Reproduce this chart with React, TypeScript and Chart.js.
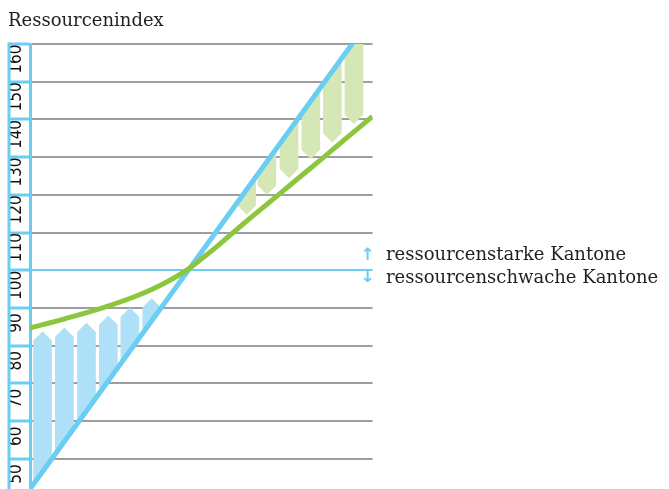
import React, { useEffect, useRef } from 'react';
import { Chart, registerables } from 'chart.js';

Chart.register(...registerables);

// ---------- data ----------
const TITLE = 'Ressourcenindex';
const LEGEND_UP = 'ressourcenstarke Kantone';
const LEGEND_DOWN = 'ressourcenschwache Kantone';

const yTickValues = [50, 60, 70, 80, 90, 100, 110, 120, 130, 140, 150, 160];
const yTickLabels = ['50', '60', '70', '80', '90', '100', '110', '120', '130', '140', '150', '160'];

const Y_MIN = 42;
const Y_MAX = 160;
const X_MIN = 42;
const X_MAX = 167.5;

// index before equalisation (diagonal)
const beforeX = [42, 167.5];
const beforeY = [42, 167.5];

// index after equalisation (curve)
const afterX = [42, 55, 68, 80, 90, 100, 105, 110, 120, 130, 140, 150, 160, 167.5];
const afterY = [84.7, 87.2, 89.9, 92.9, 96.1, 100.3, 103.1, 106.0, 112.2, 118.2, 124.2, 130.2, 136.3, 140.8];

// resource-weak cantons (arrows up)
const weakX = [46.6, 54.6, 62.7, 70.7, 78.6, 86.6];
const weakTip = [83.8, 84.8, 86.1, 88.0, 90.1, 92.6];

// resource-strong cantons (arrows down)
const strongX = [121.4, 128.8, 136.9, 144.9, 152.8, 160.7];
const strongTip = [114.7, 120.0, 124.4, 129.5, 133.9, 138.8];

// ---------- styles ----------
const BLUE = '#6acdf4';
const BLUE_BAR = '#aee0f8';
const GREEN = '#8cc63f';
const GREEN_BAR = '#d4e7b5';
const GRID = '#9d9ea1';
const TEXT = '#231f20';
const LABEL_OFFSET = 4;
const HEAD = 10;
const BLUE_LINE_INDEX = 1;

const arrowClip = {
  id: 'arrowClip',
  beforeDatasetDraw(chart: any, args: any) {
    const ds = chart.data.datasets[args.index];
    if (!ds.arrow) return;
    const ctx = chart.ctx;
    const lm = chart.getDatasetMeta(BLUE_LINE_INDEX);
    const p0 = lm.data[0];
    const p1 = lm.data[lm.data.length - 1];
    const slope = (p1.y - p0.y) / (p1.x - p0.x);
    const yAt = (x: number) => p0.y + slope * (x - p0.x);
    const { left, right, top, bottom } = chart.chartArea;
    const xl = left - 100;
    const xr = right + 100;
    ctx.save();
    ctx.beginPath();
    ctx.moveTo(xl, yAt(xl));
    ctx.lineTo(xr, yAt(xr));
    if (ds.arrow === 'up') {
      ctx.lineTo(xr, top - 2000);
      ctx.lineTo(xl, top - 2000);
    } else {
      ctx.lineTo(xr, bottom + 2000);
      ctx.lineTo(xl, bottom + 2000);
    }
    ctx.closePath();
    ctx.clip();
    ctx.beginPath();
    args.meta.data.forEach((el: any) => {
      const { x, y, base, width } = el.getProps(['x', 'y', 'base', 'width'], true);
      const half = width / 2 + 1;
      const t = Math.min(y, base);
      const b = Math.max(y, base);
      if (ds.arrow === 'up') {
        ctx.moveTo(x - half, b);
        ctx.lineTo(x - half, t + HEAD);
        ctx.lineTo(x, t);
        ctx.lineTo(x + half, t + HEAD);
        ctx.lineTo(x + half, b);
      } else {
        ctx.moveTo(x - half, t);
        ctx.lineTo(x - half, b - HEAD);
        ctx.lineTo(x, b);
        ctx.lineTo(x + half, b - HEAD);
        ctx.lineTo(x + half, t);
      }
      ctx.closePath();
    });
    ctx.clip();
  },
  afterDatasetDraw(chart: any, args: any) {
    const ds = chart.data.datasets[args.index];
    if (!ds.arrow) return;
    chart.ctx.restore();
  },
};

const decorations = {
  id: 'decorations',
  afterDraw(chart: any) {
    const ctx = chart.ctx;
    const ys = chart.scales.y;
    const yp = ys.getPixelForValue(100);
    const xr = chart.chartArea.right;
    ctx.save();
    // left border of the label column
    ctx.strokeStyle = BLUE;
    ctx.lineWidth = 3;
    ctx.beginPath();
    ctx.moveTo(ys.left + 1, ys.top - 1.5);
    ctx.lineTo(ys.left + 1, ys.bottom);
    ctx.stroke();
    // arrows
    ctx.fillStyle = BLUE;
    ctx.font = 'bold 17px "DejaVu Sans"';
    ctx.textAlign = 'center';
    ctx.textBaseline = 'middle';
    ctx.fillText('↑', xr - 5, yp - 14.5);
    ctx.fillText('↓', xr - 5, yp + 7);
    // legend texts
    ctx.fillStyle = TEXT;
    ctx.font = '18px "DejaVu Serif"';
    ctx.textAlign = 'left';
    ctx.textBaseline = 'alphabetic';
    ctx.fillText(LEGEND_UP, xr + 13.5, yp - 10.5);
    ctx.fillText(LEGEND_DOWN, xr + 13.5, yp + 12.5);
    ctx.restore();
  },
};

export default function App() {
  const ref = useRef<HTMLCanvasElement | null>(null);

  useEffect(() => {
    if (!ref.current) return;
    const chart = new Chart(ref.current, {
      type: 'bar',
      data: {
        datasets: [
          {
            type: 'line',
            label: 'nach Ausgleich',
            data: afterX.map((x, i) => ({ x, y: afterY[i] })),
            borderColor: GREEN,
            borderWidth: 5,
            pointRadius: 0,
            fill: false,
            cubicInterpolationMode: 'monotone',
            clip: 0,
          } as any,
          {
            type: 'line',
            label: 'vor Ausgleich',
            data: beforeX.map((x, i) => ({ x, y: beforeY[i] })),
            borderColor: BLUE,
            borderWidth: 5,
            pointRadius: 0,
            fill: false,
            clip: 0,
          } as any,
          {
            type: 'bar',
            label: 'ressourcenschwache Kantone',
            data: weakX.map((x, i) => ({ x, y: [Y_MIN, weakTip[i]] })),
            backgroundColor: BLUE_BAR,
            borderWidth: 0,
            barThickness: 18,
            grouped: false,
            clip: 0,
            arrow: 'up',
          } as any,
          {
            type: 'bar',
            label: 'ressourcenstarke Kantone',
            data: strongX.map((x, i) => ({ x, y: [Y_MAX + 5, strongTip[i]] })),
            backgroundColor: GREEN_BAR,
            borderWidth: 0,
            barThickness: 18,
            grouped: false,
            clip: 0,
            arrow: 'down',
          } as any,
        ],
      },
      options: {
        animation: false,
        responsive: true,
        maintainAspectRatio: false,
        devicePixelRatio: 1,
        layout: { padding: { left: 8, right: 296.5, top: 0, bottom: 0 } },
        plugins: {
          legend: { display: false },
          tooltip: { enabled: false },
          title: {
            display: true,
            text: TITLE,
            align: 'start',
            color: TEXT,
            font: { family: '"DejaVu Serif"', size: 18, weight: 'normal' },
            padding: { top: 11, bottom: 11.4 },
          },
        },
        scales: {
          x: {
            type: 'linear',
            min: X_MIN,
            max: X_MAX,
            offset: false,
            display: false,
            grid: { display: false },
          },
          y: {
            type: 'linear',
            position: 'left',
            min: Y_MIN,
            max: Y_MAX,
            afterBuildTicks: (scale: any) => {
              const t: any[] = [];
              yTickValues.forEach((v) => {
                t.push({ value: v - LABEL_OFFSET });
                t.push({ value: v });
              });
              scale.ticks = t;
            },
            afterFit: (scale: any) => {
              scale.width = 22;
              scale.paddingTop = 0;
              scale.paddingBottom = 0;
              scale.paddingLeft = 0;
              scale.paddingRight = 0;
            },
            grid: {
              color: (c: any) =>
                c.tick && c.tick.value % 10 === 0
                  ? c.tick.value === 100
                    ? BLUE
                    : GRID
                  : 'rgba(0,0,0,0)',
              lineWidth: 2,
              tickColor: (c: any) =>
                c.tick && c.tick.value % 10 === 0 ? BLUE : 'rgba(0,0,0,0)',
              tickLength: 21,
              tickWidth: 3,
              drawTicks: true,
            },
            border: { display: true, color: BLUE, width: 3 },
            ticks: {
              autoSkip: false,
              minRotation: 90,
              maxRotation: 90,
              crossAlign: 'center',
              padding: -22.6,
              color: '#111111',
              font: {
                family: '"Liberation Sans Narrow", "DejaVu Sans Condensed", Roboto, sans-serif',
                size: 17,
                weight: 'normal',
              },
              callback: (value: any) => {
                const v = Number(value);
                if (v % 10 === 0) return '';
                const i = yTickValues.indexOf(Math.round(v + LABEL_OFFSET));
                return i >= 0 ? yTickLabels[i] : '';
              },
            },
          },
        },
      } as any,
      plugins: [arrowClip, decorations],
    });
    return () => chart.destroy();
  }, []);

  return (
    <div style={{ position: 'fixed', left: 0, top: 0, width: 669, height: 489 }}>
      <canvas ref={ref} />
    </div>
  );
}
